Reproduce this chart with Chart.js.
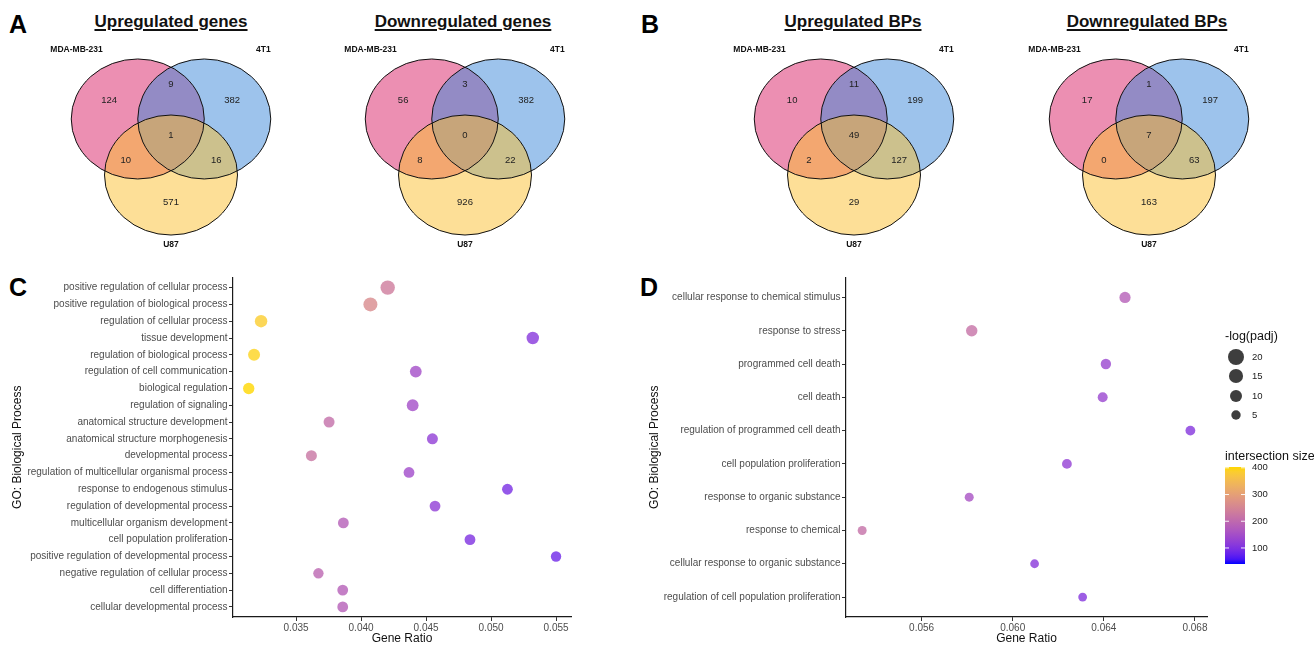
<!DOCTYPE html>
<html>
<head>
<meta charset="utf-8">
<script src="https://cdn.jsdelivr.net/npm/chart.js@4.4.1/dist/chart.umd.min.js"></script>
<style>
html,body{margin:0;padding:0;background:#fff;width:1314px;height:645px;overflow:hidden;font-family:"Liberation Sans",Arial,Helvetica,sans-serif;}
canvas{position:absolute;}
.t{position:absolute;top:13px;font-weight:bold;font-size:17px;line-height:17px;text-decoration:underline;text-decoration-thickness:1.5px;text-underline-offset:2px;white-space:nowrap;transform:translateX(-50%);color:#111;}
.L{position:absolute;font-weight:bold;font-size:25px;line-height:25px;color:#000;}
</style>
</head>
<body>
<div class="L" style="left:9px;top:12px;">A</div>
<div class="L" style="left:641px;top:12px;">B</div>
<div class="L" style="left:9px;top:275px;">C</div>
<div class="L" style="left:640px;top:275px;">D</div>
<div class="t" id="t0" style="left:171px;"></div>
<div class="t" id="t1" style="left:463px;"></div>
<div class="t" id="t2" style="left:853px;"></div>
<div class="t" id="t3" style="left:1147px;"></div>

<canvas id="v0" width="290" height="260" style="left:26px;top:0px;"></canvas>
<canvas id="v1" width="290" height="260" style="left:320px;top:0px;"></canvas>
<canvas id="v2" width="290" height="260" style="left:709px;top:0px;"></canvas>
<canvas id="v3" width="290" height="260" style="left:1004px;top:0px;"></canvas>
<canvas id="cC" width="600" height="375" style="left:0px;top:270px;"></canvas>
<canvas id="cD" width="674" height="375" style="left:640px;top:270px;"></canvas>

<script>
// ---------------- DATA ----------------
const vennSets = ["MDA-MB-231", "4T1", "U87"];
// region order: MDA only, MDA∩4T1, 4T1 only, all three, MDA∩U87, 4T1∩U87, U87 only
const vennUpGenes   = [124, 9, 382, 1, 10, 16, 571];
const vennDownGenes = [56, 3, 382, 0, 8, 22, 926];
const vennUpBPs     = [10, 11, 199, 49, 2, 127, 29];
const vennDownBPs   = [17, 1, 197, 7, 0, 63, 163];
const vennTitles = ["Upregulated genes", "Downregulated genes", "Upregulated BPs", "Downregulated BPs"];

const categoriesC = [
  "positive regulation of cellular process",
  "positive regulation of biological process",
  "regulation of cellular process",
  "tissue development",
  "regulation of biological process",
  "regulation of cell communication",
  "biological regulation",
  "regulation of signaling",
  "anatomical structure development",
  "anatomical structure morphogenesis",
  "developmental process",
  "regulation of multicellular organismal process",
  "response to endogenous stimulus",
  "regulation of developmental process",
  "multicellular organism development",
  "cell population proliferation",
  "positive regulation of developmental process",
  "negative regulation of cellular process",
  "cell differentiation",
  "cellular developmental process"
];
const geneRatioC = [0.04205, 0.04072, 0.03231, 0.05321, 0.03177, 0.04421, 0.03136, 0.04397, 0.03754, 0.04549,
                    0.03618, 0.04369, 0.05126, 0.04569, 0.03864, 0.04838, 0.05500, 0.03672, 0.03859, 0.03859];
const logPadjC = [15.7, 14.7, 10.9, 10.9, 10.0, 9.6, 8.8, 9.6, 8.0, 8.0,
                  8.0, 7.6, 7.6, 7.6, 7.6, 7.6, 6.8, 6.8, 7.6, 7.6];
const intersectC = [235, 262, 385, 110, 395, 150, 403, 150, 210, 122,
                    222, 145, 95, 122, 180, 100, 85, 195, 180, 180];
const xTicksC = [0.035, 0.040, 0.045, 0.050, 0.055];

const categoriesD = [
  "cellular response to chemical stimulus",
  "response to stress",
  "programmed cell death",
  "cell death",
  "regulation of programmed cell death",
  "cell population proliferation",
  "response to organic substance",
  "response to chemical",
  "cellular response to organic substance",
  "regulation of cell population proliferation"
];
const geneRatioD = [0.06493, 0.05820, 0.06409, 0.06395, 0.06780, 0.06238, 0.05809, 0.05339, 0.06096, 0.06307];
const logPadjD = [8.4, 8.8, 6.8, 6.0, 5.7, 5.7, 4.4, 4.3, 4.0, 4.0];
const intersectD = [180, 215, 135, 135, 108, 125, 158, 212, 112, 108];
const xTicksD = [0.056, 0.060, 0.064, 0.068];

const sizeLegendValues = [20, 15, 10, 5];
const colorLegendValues = [100, 200, 300, 400];
const colorLimits = [40, 403];

// ---------------- helpers ----------------
Chart.defaults.font.family = "'Liberation Sans', Arial, Helvetica, sans-serif";

function lin(c){c/=255;return c<=0.04045?c/12.92:Math.pow((c+0.055)/1.055,2.4);}
function gam(c){c=c<=0.0031308?12.92*c:1.055*Math.pow(c,1/2.4)-0.055;return Math.round(Math.max(0,Math.min(1,c))*255);}
function toLab(hex){
  const R=lin(parseInt(hex.slice(1,3),16)),G=lin(parseInt(hex.slice(3,5),16)),B=lin(parseInt(hex.slice(5,7),16));
  const X=(0.4124564*R+0.3575761*G+0.1804375*B)/0.95047,Y=0.2126729*R+0.7151522*G+0.0721750*B,Z=(0.0193339*R+0.1191920*G+0.9503041*B)/1.08883;
  const f=t=>t>0.008856?Math.cbrt(t):(7.787*t+16/116);
  const fx=f(X),fy=f(Y),fz=f(Z);
  return [116*fy-16,500*(fx-fy),200*(fy-fz)];
}
function fromLab(L,a,b){
  const fy=(L+16)/116,fx=fy+a/500,fz=fy-b/200;
  const fi=t=>t*t*t>0.008856?t*t*t:(t-16/116)/7.787;
  const X=fi(fx)*0.95047,Y=fi(fy),Z=fi(fz)*1.08883;
  return [gam(3.2404542*X-1.5371385*Y-0.4985314*Z),gam(-0.9692660*X+1.8760108*Y+0.0415560*Z),gam(0.0556434*X-0.2040259*Y+1.0572252*Z)];
}
const labLow=toLab('#0000FF'), labHigh=toLab('#FFD700');
function colorFor(v,alpha){
  let t=(v-colorLimits[0])/(colorLimits[1]-colorLimits[0]);t=Math.max(0,Math.min(1,t));
  const c=fromLab(labLow[0]+(labHigh[0]-labLow[0])*t,labLow[1]+(labHigh[1]-labLow[1])*t,labLow[2]+(labHigh[2]-labLow[2])*t);
  return 'rgba('+c[0]+','+c[1]+','+c[2]+','+alpha+')';
}
function radiusFor(v){return Math.sqrt(10.3+2.93*v)-0.3;}

// ---------------- Venn diagrams ----------------
const vennCenters=[[-0.5,0.467],[0.5,0.467],[0,-0.467]];
const vennFills=['rgba(217,31,101,0.5)','rgba(59,135,217,0.5)','rgba(251,191,47,0.5)'];
const regionAnchors=[[-0.93,0.78],[0,1.05],[0.92,0.78],[0,0.2],[-0.68,-0.22],[0.68,-0.22],[0,-0.93]];
const setAnchors=[[-1.42,1.63],[1.39,1.63],[0,-1.63]];

const vennPlugin={
  id:'venn',
  afterDatasetsDraw(chart){
    const ctx=chart.ctx,x=chart.scales.x,y=chart.scales.y;
    const counts=chart.data.datasets[0].counts;
    const sx=Math.abs(x.getPixelForValue(1)-x.getPixelForValue(0));
    const sy=Math.abs(y.getPixelForValue(1)-y.getPixelForValue(0));
    ctx.save();
    vennCenters.forEach((c,i)=>{
      ctx.beginPath();
      ctx.ellipse(x.getPixelForValue(c[0]),y.getPixelForValue(c[1]),sx,sy,0,0,Math.PI*2);
      ctx.fillStyle=vennFills[i];ctx.fill();
    });
    ctx.strokeStyle='#111';ctx.lineWidth=1;
    vennCenters.forEach(c=>{
      ctx.beginPath();
      ctx.ellipse(x.getPixelForValue(c[0]),y.getPixelForValue(c[1]),sx,sy,0,0,Math.PI*2);
      ctx.stroke();
    });
    ctx.textAlign='center';ctx.textBaseline='middle';
    ctx.fillStyle='#222';ctx.font="9.5px 'Liberation Sans', Arial, sans-serif";
    counts.forEach((n,i)=>{
      ctx.fillText(String(n),x.getPixelForValue(regionAnchors[i][0]),y.getPixelForValue(regionAnchors[i][1]));
    });
    ctx.fillStyle='#111';ctx.font="bold 8.5px 'Liberation Sans', Arial, sans-serif";
    vennSets.forEach((s,i)=>{
      ctx.fillText(s,x.getPixelForValue(setAnchors[i][0]),y.getPixelForValue(setAnchors[i][1]));
    });
    ctx.restore();
  }
};

function makeVenn(id,counts){
  const hw=145/66.5;
  return new Chart(document.getElementById(id),{
    type:'scatter',
    data:{datasets:[{data:vennCenters.map(c=>({x:c[0],y:c[1]})),counts:counts,pointRadius:0,pointHoverRadius:0}]},
    options:{responsive:false,animation:false,events:[],
      layout:{padding:0},
      plugins:{legend:{display:false},tooltip:{enabled:false}},
      scales:{x:{type:'linear',display:false,min:-hw,max:hw},
              y:{type:'linear',display:false,min:-113/60,max:147/60}}},
    plugins:[vennPlugin]
  });
}
[vennUpGenes,vennDownGenes,vennUpBPs,vennDownBPs].forEach((c,i)=>{
  makeVenn('v'+i,c);
  document.getElementById('t'+i).textContent=vennTitles[i];
});

// ---------------- Dot plots ----------------
function dotChart(id,cats,ratios,logp,inter,xTicks,xMin,xMax,yWidth,titlePad,padRight,plugins){
  return new Chart(document.getElementById(id),{
    type:'scatter',
    data:{datasets:[{
      data:ratios.map((r,i)=>({x:r,y:i})),
      pointRadius:c=>radiusFor(logp[c.dataIndex]),
      pointHoverRadius:c=>radiusFor(logp[c.dataIndex]),
      pointBackgroundColor:c=>colorFor(inter[c.dataIndex],0.8),
      pointBorderWidth:0,borderWidth:0}]},
    options:{responsive:false,animation:false,events:[],
      layout:{padding:{top:6,right:padRight,left:0,bottom:0}},
      plugins:{legend:{display:false},tooltip:{enabled:false}},
      scales:{
        x:{type:'linear',position:'bottom',min:xMin,max:xMax,
          afterBuildTicks:s=>{s.ticks=xTicks.map(v=>({value:v}));},
          afterFit:s=>{s.height=28;},
          ticks:{font:{size:10},color:'#4D4D4D',padding:1,maxRotation:0,autoSkip:false,callback:v=>Number(v).toFixed(3)},
          grid:{drawOnChartArea:false,drawTicks:true,tickLength:4,color:'#333',lineWidth:1},
          border:{display:true,color:'#1a1a1a',width:1.2},
          title:{display:true,text:'Gene Ratio',font:{size:12,lineHeight:1},color:'#111',padding:{top:0,bottom:0}}},
        y:{type:'linear',position:'left',min:-0.6,max:cats.length-0.4,reverse:true,
          afterBuildTicks:s=>{s.ticks=cats.map((_,i)=>({value:i}));},
          afterFit:s=>{s.width=yWidth;},
          ticks:{font:{size:10},color:'#4D4D4D',padding:1.5,autoSkip:false,callback:v=>cats[Math.round(v)]},
          grid:{drawOnChartArea:false,drawTicks:true,tickLength:4,color:'#333',lineWidth:1},
          border:{display:true,color:'#1a1a1a',width:1.2},
          title:{display:true,text:'GO: Biological Process',font:{size:12,lineHeight:1},color:'#111',padding:{top:titlePad,bottom:0}}}
      }},
    plugins:plugins||[]
  });
}

const legendPlugin={
  id:'legendD',
  afterDraw(chart){
    const ctx=chart.ctx;
    ctx.save();
    ctx.fillStyle='#111';ctx.textBaseline='middle';ctx.textAlign='left';
    ctx.font="12.5px 'Liberation Sans', Arial, sans-serif";
    ctx.fillText('-log(padj)',585,67);
    const ys=[87,106,126,145];
    ctx.font="9.5px 'Liberation Sans', Arial, sans-serif";
    sizeLegendValues.forEach((v,i)=>{
      ctx.beginPath();ctx.arc(596,ys[i],radiusFor(v),0,Math.PI*2);
      ctx.fillStyle='rgba(35,35,35,0.88)';ctx.fill();
      ctx.fillStyle='#222';ctx.fillText(String(v),612,ys[i]);
    });
    ctx.fillStyle='#111';ctx.font="12.5px 'Liberation Sans', Arial, sans-serif";
    ctx.fillText('intersection size',585,187);
    const top=197,bot=294,x0=585,x1=605;
    const g=ctx.createLinearGradient(0,bot,0,top);
    for(let k=0;k<=20;k++){g.addColorStop(k/20,colorFor(colorLimits[0]+(colorLimits[1]-colorLimits[0])*k/20,1));}
    ctx.fillStyle=g;ctx.fillRect(x0,top,x1-x0,bot-top);
    ctx.font="9.5px 'Liberation Sans', Arial, sans-serif";
    colorLegendValues.forEach(v=>{
      const yy=bot-(v-colorLimits[0])/(colorLimits[1]-colorLimits[0])*(bot-top);
      ctx.strokeStyle='rgba(255,255,255,0.9)';ctx.lineWidth=1;
      ctx.beginPath();ctx.moveTo(x0,yy);ctx.lineTo(x0+4,yy);ctx.moveTo(x1-4,yy);ctx.lineTo(x1,yy);ctx.stroke();
      ctx.fillStyle='#222';ctx.fillText(String(v),612,yy);
    });
    ctx.restore();
  }
};

dotChart('cC',categoriesC,geneRatioC,logPadjC,intersectC,xTicksC,0.03015,0.05615,233,12,29);
dotChart('cD',categoriesD,geneRatioD,logPadjD,intersectD,xTicksD,0.05268,0.06853,206,9,107,[legendPlugin]);
</script>
</body>
</html>
